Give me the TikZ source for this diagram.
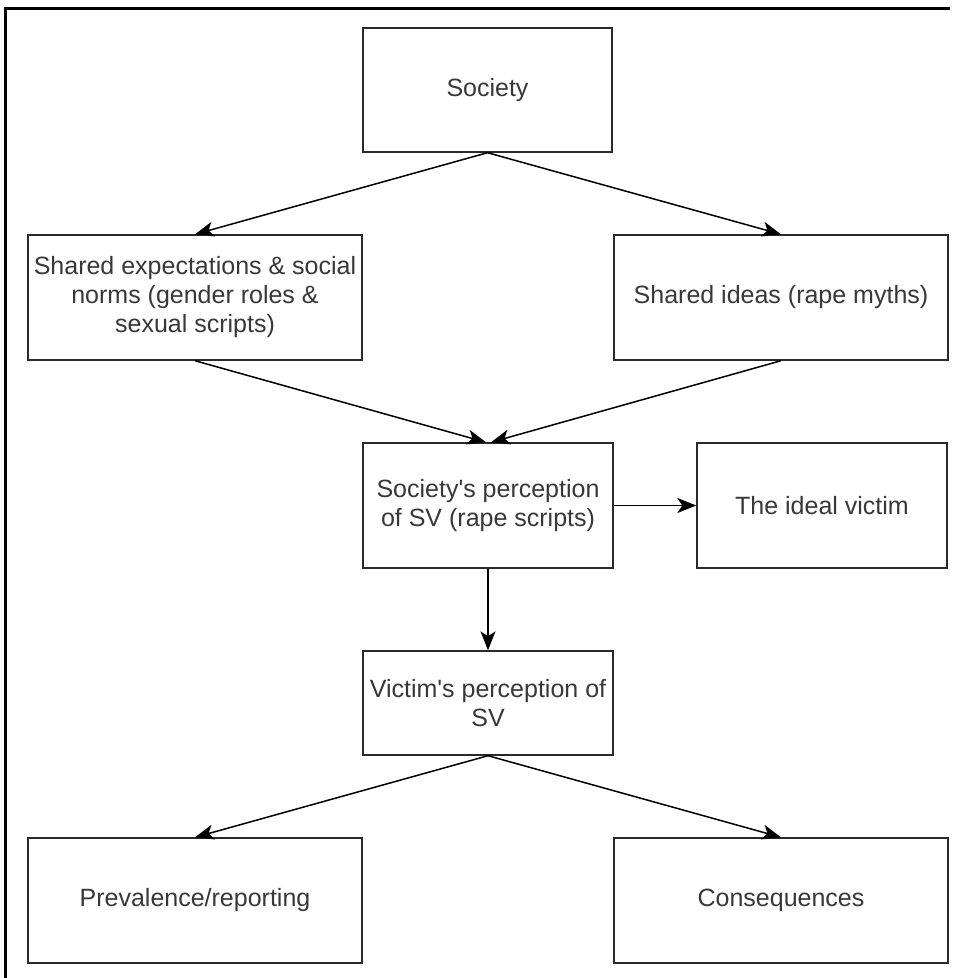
\documentclass[tikz,border=0pt]{standalone}
\usepackage{fontspec}
\setmainfont{Liberation Sans}
\usetikzlibrary{arrows.meta}
\definecolor{txt}{HTML}{383838}
\definecolor{edge}{HTML}{2a2a2a}
\tikzset{
  box/.style={draw=edge, line width=1.4pt, rectangle, align=center, text=txt,
    font=\fontsize{25}{29}\selectfont, inner sep=0pt},
  conn/.style={draw=black, line width=1.5pt, -{Stealth[length=19pt,width=15pt,inset=5pt]}}
}
\begin{document}
\begin{tikzpicture}[x=1pt,y=-1pt]
\useasboundingbox (0,0) rectangle (953,978);
\fill[white] (0,0) rectangle (953,978);
% frame (left and top lines)
\draw[line width=3pt, black] (5,978) -- (5,8) -- (950,8);
% nodes
\node[box, minimum width=249pt, minimum height=124pt] (soc) at (487.5,90) {Society};
\node[box, minimum width=334pt, minimum height=125pt] (sexp) at (195,297.5) {Shared expectations \& social\\norms (gender roles \&\\sexual scripts)};
\node[box, minimum width=334pt, minimum height=125pt] (sideas) at (781,297.5) {Shared ideas (rape myths)};
\node[box, minimum width=250pt, minimum height=125pt] (sper) at (488,505.5) {Society\textquotesingle s perception\\of SV (rape scripts)};
\node[box, minimum width=250pt, minimum height=125pt] (ideal) at (822,505.5) {The ideal victim};
\node[box, minimum width=250pt, minimum height=104pt] (vper) at (488,703) {Victim\textquotesingle s perception of\\SV};
\node[box, minimum width=334pt, minimum height=125pt] (prev) at (195,900.5) {Prevalence/reporting};
\node[box, minimum width=334pt, minimum height=125pt] (cons) at (781,900.5) {Consequences};
% connectors
\draw[conn] (soc.south) -- (sexp.north);
\draw[conn] (soc.south) -- (sideas.north);
\draw[conn] (sexp.south) -- ([xshift=-2pt]sper.north);
\draw[conn] (sideas.south) -- ([xshift=3pt]sper.north);
\draw[conn] (sper.east) -- (ideal.west);
\draw[conn] (sper.south) -- (vper.north);
\draw[conn] (vper.south) -- (prev.north);
\draw[conn] (vper.south) -- (cons.north);
\end{tikzpicture}
\end{document}
